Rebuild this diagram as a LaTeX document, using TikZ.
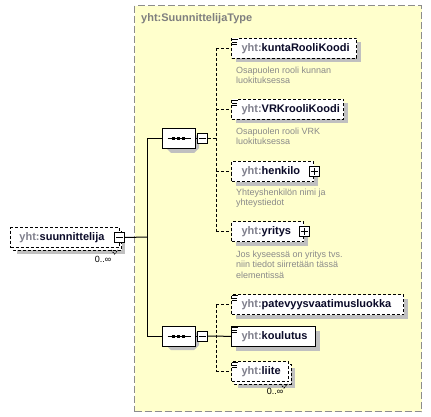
\documentclass[tikz,border=0pt]{standalone}
\usepackage{fontspec}
\setmainfont{Liberation Sans}
\usetikzlibrary{shapes.misc,calc}
\definecolor{typefill}{HTML}{FFFFCC}
\definecolor{bordergray}{HTML}{8C8C8C}
\definecolor{shadecol}{RGB}{192,192,192}
\definecolor{prefixgray}{HTML}{7F7F8C}
\definecolor{namecol}{HTML}{0A0A28}
\definecolor{descgray}{HTML}{8A8A8A}
\definecolor{titlegray}{HTML}{7F7F7F}
\newcommand\yhtname[1]{\textcolor{prefixgray}{yht:}\textcolor{namecol}{#1}}
\newcommand\simpleicon[1]{%
  \fill[white] ($(#1.north west)+(0.5,0.5)$) rectangle ($(#1.north west)+(6.5,7)$);
  \draw[line width=0.9pt] ($(#1.north west)+(1,1.5)$) -- ++(5.5,0)
        ($(#1.north west)+(1,4)$) -- ++(4.5,0)
        ($(#1.north west)+(1,6.5)$) -- ++(4.5,0);}
% shadow drawn before its box, from the box's corner and size
\newcommand\elemshadow[3]{% x, y, width (height 20)
  \fill[shadecol] (#1+4.5,#2+4.5) rectangle (#1+#3+4.5,#2+24.5);}
\newcommand\multielemshadow[3]{%
  \fill[shadecol] (#1+7,#2+7) rectangle (#1+#3+6.5,#2+26.5);
  \draw[line width=1pt, dash pattern=on 3pt off 2pt, fill=white]
     (#1+3,#2+3) rectangle (#1+#3+3,#2+23);
  \draw[line width=0.8pt, dash pattern=on 1.5pt off 1pt]
     (#1+#3-7.5,#2+23) -- ++(3.5,4) -- ++(3.5,-4);}
\newcommand\seqnodeshadow[2]{% centre
  \fill[shadecol] (#1-11.5+4,#2-10+4) -- (#1+11.5+4,#2-10+4) -- (#1+16.5+4,#2-5+4)
     -- (#1+16.5+4,#2+5+4) -- (#1+11.5+4,#2+10+4) -- (#1-11.5+4,#2+10+4)
     -- (#1-16.5+4,#2+5+4) -- cycle;}
\begin{document}
\begin{tikzpicture}[x=1pt,y=-1pt,
  conn/.style={line width=1pt, black},
  dconn/.style={conn, dash pattern=on 3pt off 2pt},
  elembox/.style={draw=black, line width=1pt, fill=white, anchor=north west,
    minimum height=20pt, inner xsep=10pt, inner ysep=0pt, align=left,
    font=\fontsize{11}{13}\selectfont\bfseries},
  optel/.style={dash pattern=on 3pt off 2pt},
  pmbox/.style={draw=black, line width=1pt, fill=white, minimum size=10pt, inner sep=0pt},
  desc/.style={anchor=north west, align=left, text=descgray,
    font=\fontsize{9}{10.6}\selectfont, inner sep=0pt},
  mult/.style={text=black, font=\fontsize{9}{10}\selectfont, inner sep=0pt},
  seqnode/.style={chamfered rectangle, chamfered rectangle xsep=5pt,
    chamfered rectangle ysep=5pt, draw=black, line width=1pt, fill=white,
    minimum width=33pt, minimum height=20pt, inner sep=0pt}
]
\useasboundingbox (0,0) rectangle (431,417);

% complex type frame
\node[draw=bordergray, fill=typefill, line width=1.2pt, dash pattern=on 7pt off 3pt,
      anchor=north west, minimum width=287pt, minimum height=406pt, inner sep=0pt]
      (typebox) at (134,5) {};
\node[anchor=west, inner sep=0pt, text=titlegray, font=\fontsize{11}{13}\selectfont\bfseries]
      (typetitle) at (141,19) {yht:SuunnittelijaType};

% root element
\multielemshadow{10}{227}{108.5}
\node[elembox, optel, text width=90.5pt, inner xsep=9pt] (root) at (10,227) {\yhtname{suunnittelija}};
\node[mult, anchor=north] (rootmult) at (103,256) {0..∞};
\node[pmbox] (rootpm) at (root.east) {};
\draw[line width=1pt] ([xshift=2pt]rootpm.west) -- ([xshift=-2pt]rootpm.east);

% sequences
\seqnodeshadow{178.5}{139}
\seqnodeshadow{178.5}{336}
\node[seqnode] (seq1) at (178.5,139) {};
\node[seqnode] (seq2) at (178.5,336) {};
\foreach \s in {seq1,seq2}{
  \draw[conn] ($(\s.center)+(-11,0)$) -- ($(\s.center)+(12,0)$);
  \foreach \d in {-5,0,5}
    \fill ($(\s.center)+(\d-1.5,-1.5)$) rectangle ++(3,3);
}
\node[pmbox] (m1) at (202,139) {};
\node[pmbox] (m2) at (202,336) {};
\foreach \m in {m1,m2}
  \draw[line width=1pt] ([xshift=2pt]\m.west) -- ([xshift=-2pt]\m.east);
\draw[conn] (seq1.east) -- (m1.west);
\draw[conn] (seq2.east) -- (m2.west);

% root to sequences
\coordinate (j0) at (147,237);
\draw[conn] (rootpm.east) -- (j0);
\draw[conn] (seq1.west) -- (seq1.west -| j0) -- (seq2.west -| j0) -- (seq2.west);

% children of first sequence
\elemshadow{231}{38}{125}
\node[elembox, optel, text width=105pt] (kunta) at (231,38) {\yhtname{kuntaRooliKoodi}};
\simpleicon{kunta}
\node[desc] (kuntadesc) at (236,66.5) {Osapuolen rooli kunnan\\luokituksessa};

\elemshadow{231}{99}{112}
\node[elembox, optel, text width=92pt] (vrk) at (231,99) {\yhtname{VRKrooliKoodi}};
\simpleicon{vrk}
\node[desc] (vrkdesc) at (236,127.5) {Osapuolen rooli VRK\\luokituksessa};

\elemshadow{231}{161}{82}
\node[elembox, optel, text width=62pt] (henkilo) at (231,161) {\yhtname{henkilo}};
\node[pmbox] (henkilopm) at (henkilo.east) {};
\draw[line width=1pt] ([xshift=2pt]henkilopm.west) -- ([xshift=-2pt]henkilopm.east)
      ([yshift=-2pt]henkilopm.north) -- ([yshift=2pt]henkilopm.south);
\node[desc] (henkilodesc) at (236,188.5) {Yhteyshenkilön nimi ja\\yhteystiedot};

\elemshadow{231}{221}{72}
\node[elembox, optel, text width=52pt] (yritys) at (231,221) {\yhtname{yritys}};
\node[pmbox] (yrityspm) at (yritys.east) {};
\draw[line width=1pt] ([xshift=2pt]yrityspm.west) -- ([xshift=-2pt]yrityspm.east)
      ([yshift=-2pt]yrityspm.north) -- ([yshift=2pt]yrityspm.south);
\node[desc] (yritysdesc) at (236,250.5) {Jos kyseessä on yritys tvs.\\niin tiedot siirretään tässä\\elementissä};

\coordinate (b1) at (216,139);
\draw[dconn] (m1.east) -- (b1);
\draw[dconn] (kunta.west -| b1) -- (yritys.west -| b1);
\foreach \c in {kunta,vrk,henkilo,yritys}
  \draw[dconn] (\c.west -| b1) -- (\c.west);

% children of second sequence
\elemshadow{231}{294}{172}
\node[elembox, optel, text width=152pt] (patev) at (231,294) {\yhtname{patevyysvaatimusluokka}};
\simpleicon{patev}
\elemshadow{231}{326}{84}
\node[elembox, text width=64pt] (koulutus) at (231,326) {\yhtname{koulutus}};
\simpleicon{koulutus}
\multielemshadow{231}{361}{57}
\node[elembox, optel, text width=37pt] (liite) at (231,361) {\yhtname{liite}};
\simpleicon{liite}
\node[mult, anchor=north] (liitemult) at (275,388) {0..∞};

\coordinate (b2) at (216,336);
\draw[conn] (m2.east) -- (b2) -- (koulutus.west);
\draw[dconn] (patev.west -| b2) -- (liite.west -| b2);
\draw[dconn] (patev.west -| b2) -- (patev.west);
\draw[dconn] (liite.west -| b2) -- (liite.west);
\end{tikzpicture}
\end{document}
